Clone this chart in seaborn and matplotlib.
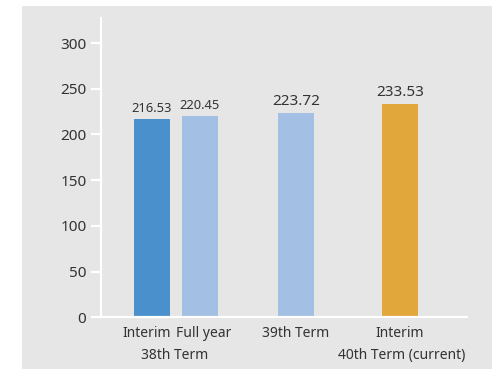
import matplotlib
matplotlib.use("Agg")
import matplotlib.pyplot as plt
from matplotlib.patches import Rectangle
from matplotlib.transforms import offset_copy
import seaborn as sns
import pandas as pd

# Book value per share by period
periods = ["38th interim", "38th full year", "39th", "40th interim"]
values = [216.53, 220.45, 223.72, 233.53]
tick_labels = ["Interim", "Full year", "39th Term", "Interim"]
group_labels = ["38th Term", "40th Term (current)"]
bar_colors = ["#4A90CC", "#A3BFE3", "#A3BFE3", "#E1A73B"]
yticks = [0, 50, 100, 150, 200, 250, 300]

# x placement of the bars (38th pair close together, wider gaps after)
positions = [0, 1, 3, 5.17]
label_sizes = [9.3, 9.3, 11, 11]
# small horizontal nudges (points) so the paired labels don't collide
label_nudge = [-4, 2.5, 0, 0]

sns.set_theme(style="white")
plt.rcParams["font.family"] = ["Noto Sans", "DejaVu Sans"]

text_color = "#333333"
bg = "#E6E6E6"

fig = plt.figure(figsize=(5, 3.7), dpi=100)
fig.patch.set_facecolor("white")
fig.patches.append(Rectangle((22 / 500, 1 - 369 / 370), 470 / 500, 363 / 370,
                             transform=fig.transFigure, facecolor=bg,
                             edgecolor="none", zorder=-10))
ax = fig.add_axes([0.202, 0.1424, 0.732, 0.808])
ax.set_facecolor("none")

df = pd.DataFrame({"pos": positions, "value": values, "period": periods})
sns.barplot(data=df, x="pos", y="value", hue="period", hue_order=periods,
            palette=bar_colors, native_scale=True, width=0.75,
            saturation=1, legend=False, linewidth=0, edgecolor="none", ax=ax)

for x, v, fs in zip(positions, values, label_sizes):
    ax.annotate(f"{v:.2f}", (x, v), xytext=(0, 3), textcoords="offset points",
                ha="center", va="bottom", fontsize=fs, color=text_color)

ax.set_xlim(-1.0625, 6.5625)
ax.set_ylim(0, 327)
ax.set_yticks(yticks)
ax.set_xticks([])
ax.set_xlabel("")
ax.set_ylabel("")

for side in ["top", "right"]:
    ax.spines[side].set_visible(False)
for side in ["left", "bottom"]:
    ax.spines[side].set_color("white")
    ax.spines[side].set_linewidth(1.6)

ax.tick_params(axis="y", left=True, length=7, width=1.6, color="white",
               pad=3.5, labelsize=11, labelcolor=text_color)

# category labels below the axis
xt = ax.get_xaxis_transform()
for x, lab, dx in zip(positions, tick_labels, label_nudge):
    ax.text(x, -0.055, lab, transform=offset_copy(xt, fig=fig, x=dx, units="points"),
            ha="center", va="center", fontsize=10, color=text_color)
ax.text((positions[0] + positions[1]) / 2, -0.127, group_labels[0],
        transform=offset_copy(xt, fig=fig, x=-1, units="points"),
        ha="center", va="center", fontsize=10, color=text_color)
ax.text(positions[3], -0.127, group_labels[1],
        transform=offset_copy(xt, fig=fig, x=1, units="points"),
        ha="center", va="center", fontsize=10, color=text_color)

fig.savefig("out.png", dpi=100)
